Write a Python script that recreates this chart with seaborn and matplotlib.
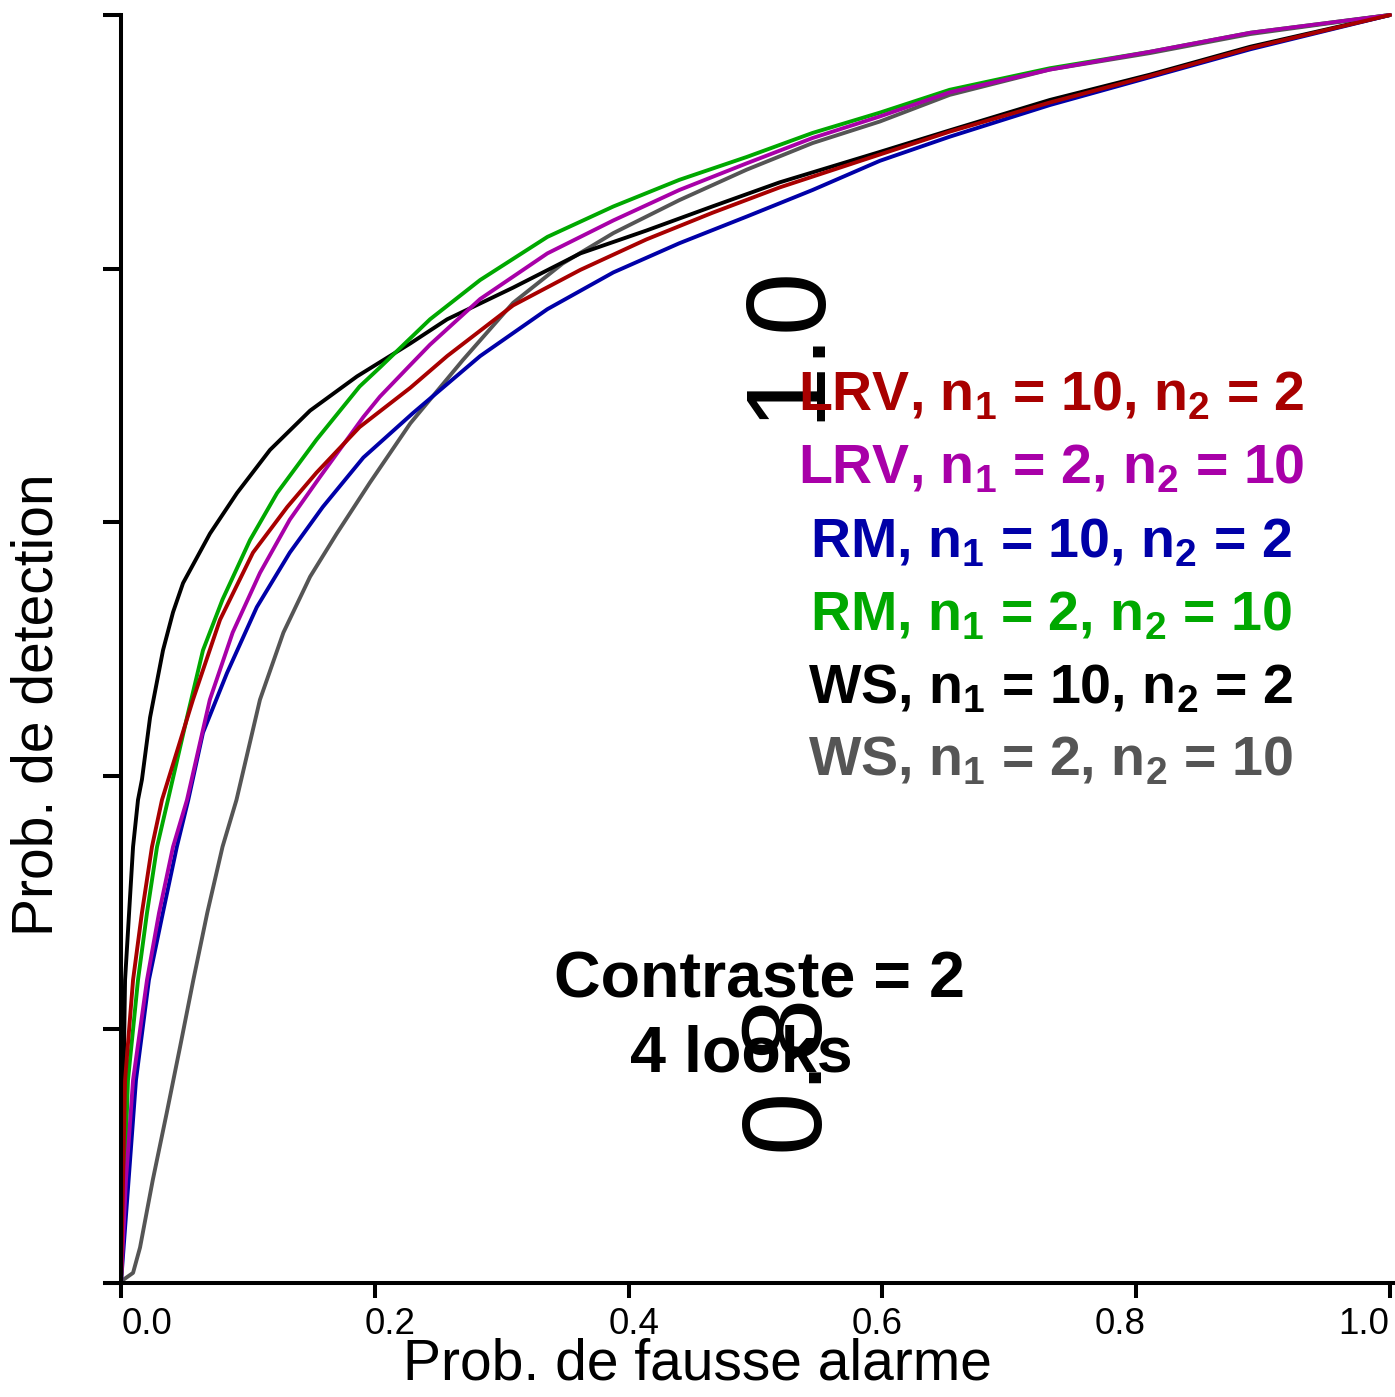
import matplotlib
matplotlib.use("Agg")
import matplotlib.pyplot as plt
import matplotlib.transforms as mtransforms
import numpy as np
import pandas as pd
import seaborn as sns

# ROC curves (x = prob. fausse alarme, y = prob. detection)
lrv_10_2_x = [0, 0.0032, 0.0095, 0.0165, 0.0244, 0.0323, 0.0567, 0.078, 0.104, 0.131, 0.154, 0.188,
              0.228, 0.257, 0.309, 0.362, 0.414, 0.466, 0.519, 0.598, 0.653, 0.732, 0.811, 0.890, 1.0]
lrv_10_2_y = [0, 0.160, 0.239, 0.292, 0.344, 0.381, 0.460, 0.523, 0.576, 0.612, 0.639, 0.675,
              0.706, 0.731, 0.771, 0.799, 0.823, 0.844, 0.864, 0.890, 0.908, 0.931, 0.952, 0.974, 1.0]

lrv_2_10_x = [0, 0.0039, 0.0095, 0.0205, 0.030, 0.041, 0.052, 0.070, 0.088, 0.1095, 0.133, 0.157, 0.191,
              0.204, 0.228, 0.2435, 0.283, 0.336, 0.388, 0.440, 0.493, 0.545, 0.598, 0.653, 0.732,
              0.811, 0.890, 1.0]
lrv_2_10_y = [0, 0.081, 0.160, 0.239, 0.292, 0.344, 0.381, 0.460, 0.513, 0.560, 0.602, 0.636, 0.683,
              0.699, 0.724, 0.740, 0.776, 0.812, 0.838, 0.862, 0.883, 0.903, 0.920, 0.939, 0.957,
              0.971, 0.986, 1.0]

rm_10_2_x = [0, 0.0118, 0.022, 0.033, 0.044, 0.053, 0.0646, 0.0835, 0.107, 0.133, 0.159, 0.191, 0.230,
             0.283, 0.336, 0.388, 0.440, 0.493, 0.545, 0.598, 0.653, 0.732, 0.811, 0.890, 1.0]
rm_10_2_y = [0, 0.160, 0.239, 0.292, 0.344, 0.381, 0.434, 0.481, 0.533, 0.576, 0.612, 0.651, 0.686,
             0.731, 0.768, 0.797, 0.820, 0.841, 0.862, 0.885, 0.904, 0.929, 0.951, 0.973, 1.0]

rm_2_10_x = [0, 0.0055, 0.0134, 0.0205, 0.0284, 0.037, 0.052, 0.0646, 0.080, 0.1017, 0.123, 0.154,
             0.188, 0.204, 0.2435, 0.283, 0.336, 0.388, 0.440, 0.493, 0.545, 0.598, 0.653, 0.732,
             0.811, 0.890, 1.0]
rm_2_10_y = [0, 0.160, 0.239, 0.292, 0.344, 0.381, 0.446, 0.499, 0.539, 0.586, 0.623, 0.665,
             0.707, 0.722, 0.760, 0.791, 0.825, 0.849, 0.870, 0.888, 0.907, 0.923, 0.941, 0.958,
             0.971, 0.986, 1.0]

ws_10_2_x = [0, 0.0016, 0.0032, 0.0095, 0.0134, 0.0165, 0.0229, 0.0331, 0.0410, 0.0489, 0.0701, 0.0914,
             0.1174, 0.149, 0.186, 0.228, 0.257, 0.309, 0.362, 0.414, 0.466, 0.519, 0.598, 0.653,
             0.732, 0.811, 0.890, 1.0]
ws_10_2_y = [0, 0.134, 0.239, 0.344, 0.381, 0.397, 0.446, 0.499, 0.529, 0.552, 0.591, 0.623,
             0.657, 0.688, 0.715, 0.741, 0.760, 0.785, 0.812, 0.830, 0.849, 0.868, 0.892, 0.909,
             0.933, 0.953, 0.975, 1.0]

ws_2_10_x = [0, 0.0016, 0.0095, 0.015, 0.025, 0.036, 0.0465, 0.057, 0.068, 0.080, 0.091, 0.1095, 0.128,
             0.149, 0.170, 0.196, 0.228, 0.2695, 0.309, 0.348, 0.388, 0.440, 0.493, 0.545, 0.598,
             0.653, 0.732, 0.811, 0.890, 1.0]
ws_2_10_y = [0, 0.0024, 0.008, 0.028, 0.081, 0.134, 0.186, 0.239, 0.292, 0.344, 0.381, 0.460, 0.513,
             0.557, 0.591, 0.631, 0.678, 0.728, 0.773, 0.804, 0.828, 0.854, 0.878, 0.899, 0.916,
             0.937, 0.957, 0.970, 0.985, 1.0]

series_names = ["LRV_10_2", "LRV_2_10", "RM_10_2", "RM_2_10", "WS_10_2", "WS_2_10"]
series_labels = [
    r"LRV, n$_\mathbf{1}$ = 10, n$_\mathbf{2}$ = 2",
    r"LRV, n$_\mathbf{1}$ = 2, n$_\mathbf{2}$ = 10",
    r"RM, n$_\mathbf{1}$ = 10, n$_\mathbf{2}$ = 2",
    r"RM, n$_\mathbf{1}$ = 2, n$_\mathbf{2}$ = 10",
    r"WS, n$_\mathbf{1}$ = 10, n$_\mathbf{2}$ = 2",
    r"WS, n$_\mathbf{1}$ = 2, n$_\mathbf{2}$ = 10",
]
colors = ["#a80000", "#a800a8", "#0000a8", "#00a800", "#000000", "#555555"]
xticks = [0.0, 0.2, 0.4, 0.6, 0.8, 1.0]
yticks = [0.0, 0.2, 0.4, 0.6, 0.8, 1.0]

xs = [lrv_10_2_x, lrv_2_10_x, rm_10_2_x, rm_2_10_x, ws_10_2_x, ws_2_10_x]
ys = [lrv_10_2_y, lrv_2_10_y, rm_10_2_y, rm_2_10_y, ws_10_2_y, ws_2_10_y]
df = pd.concat(
    [pd.DataFrame({"pfa": x, "pd": y, "serie": n}) for n, x, y in zip(series_names, xs, ys)],
    ignore_index=True,
)

sns.set_style("white")
plt.rcParams["font.family"] = ["Liberation Sans", "DejaVu Sans"]
plt.rcParams["mathtext.fontset"] = "custom"
plt.rcParams["mathtext.rm"] = "Liberation Sans"
plt.rcParams["mathtext.bf"] = "Liberation Sans:bold"
plt.rcParams["text.color"] = "black"
plt.rcParams["xtick.color"] = "black"
plt.rcParams["ytick.color"] = "black"

W, H = 1395, 1397
fig = plt.figure(figsize=(W / 100, H / 100), dpi=100)
ax = fig.add_axes([105 / W, (H - 1283) / H, 1290 / W, 1268 / H])

# draw order: black/grey first so the coloured curves sit on top like the reference
order = ["WS_2_10", "WS_10_2", "RM_10_2", "RM_2_10", "LRV_2_10", "LRV_10_2"]
palette = dict(zip(series_names, colors))
for name in order:
    sns.lineplot(data=df[df["serie"] == name], x="pfa", y="pd", color=palette[name],
                 sort=False, estimator=None, lw=2.8, ax=ax, legend=False, clip_on=False)

ax.set_xlim(-16 / 1269, 1 + 5 / 1269)
ax.set_ylim(0, 1)
for s in ["top", "right"]:
    ax.spines[s].set_visible(False)
ax.spines["left"].set_position(("data", 0))
for s in ["left", "bottom"]:
    ax.spines[s].set_linewidth(2.9)
    ax.spines[s].set_color("black")
ax.set_xticks(xticks)
ax.set_xticklabels([f"{t:.1f}" for t in xticks], fontsize=26.5)
ax.set_yticks(yticks)
ax.set_yticklabels([])
ax.tick_params(axis="x", bottom=True, length=11, width=2.9, pad=6, color="black")
ax.tick_params(axis="y", left=True, length=13, width=2.9, color="black")
ax.set_xlabel("")
ax.set_ylabel("")

# the reference's tick labels drift from +26 px at 0.0 to -26 px at 1.0
for t, lab in zip(xticks, ax.get_xticklabels()):
    dx = (26 - 52 * t) / 100
    lab.set_transform(lab.get_transform() + mtransforms.ScaledTranslation(dx, 0, fig.dpi_scale_trans))

fig.text(697 / W, 1 - 1365 / H, "Prob. de fausse alarme", fontsize=41, ha="center", va="center")
fig.text(38 / W, 1 - 705 / H, "Prob. de detection", fontsize=41, ha="center", va="center",
         rotation=90)

# stray y tick labels drawn large in the middle of the plot, as in the reference
ax.text((788 - 121) / 1269, (1283 - 342) / 1268, "1.0", fontsize=82, rotation=90,
        ha="center", va="center")
ax.text((788 - 121) / 1269, (1283 - 1072) / 1268, "0.8", fontsize=82, rotation=90,
        ha="center", va="center")

baselines = [410, 483, 557, 630, 703, 775]
for lab, col, b in zip(series_labels, colors, baselines):
    ax.text((1051 - 121) / 1269, (1283 - b) / 1268, lab, color=col, fontsize=40,
            fontweight="bold", ha="center", va="baseline")

ax.text((760 - 121) / 1269, (1283 - 998) / 1268, "Contraste = 2", fontsize=46.5,
        fontweight="bold", ha="center", va="baseline")
ax.text((741 - 121) / 1269, (1283 - 1071) / 1268, "4 looks", fontsize=46.5,
        fontweight="bold", ha="center", va="baseline")

fig.savefig("out.png", dpi=100)
